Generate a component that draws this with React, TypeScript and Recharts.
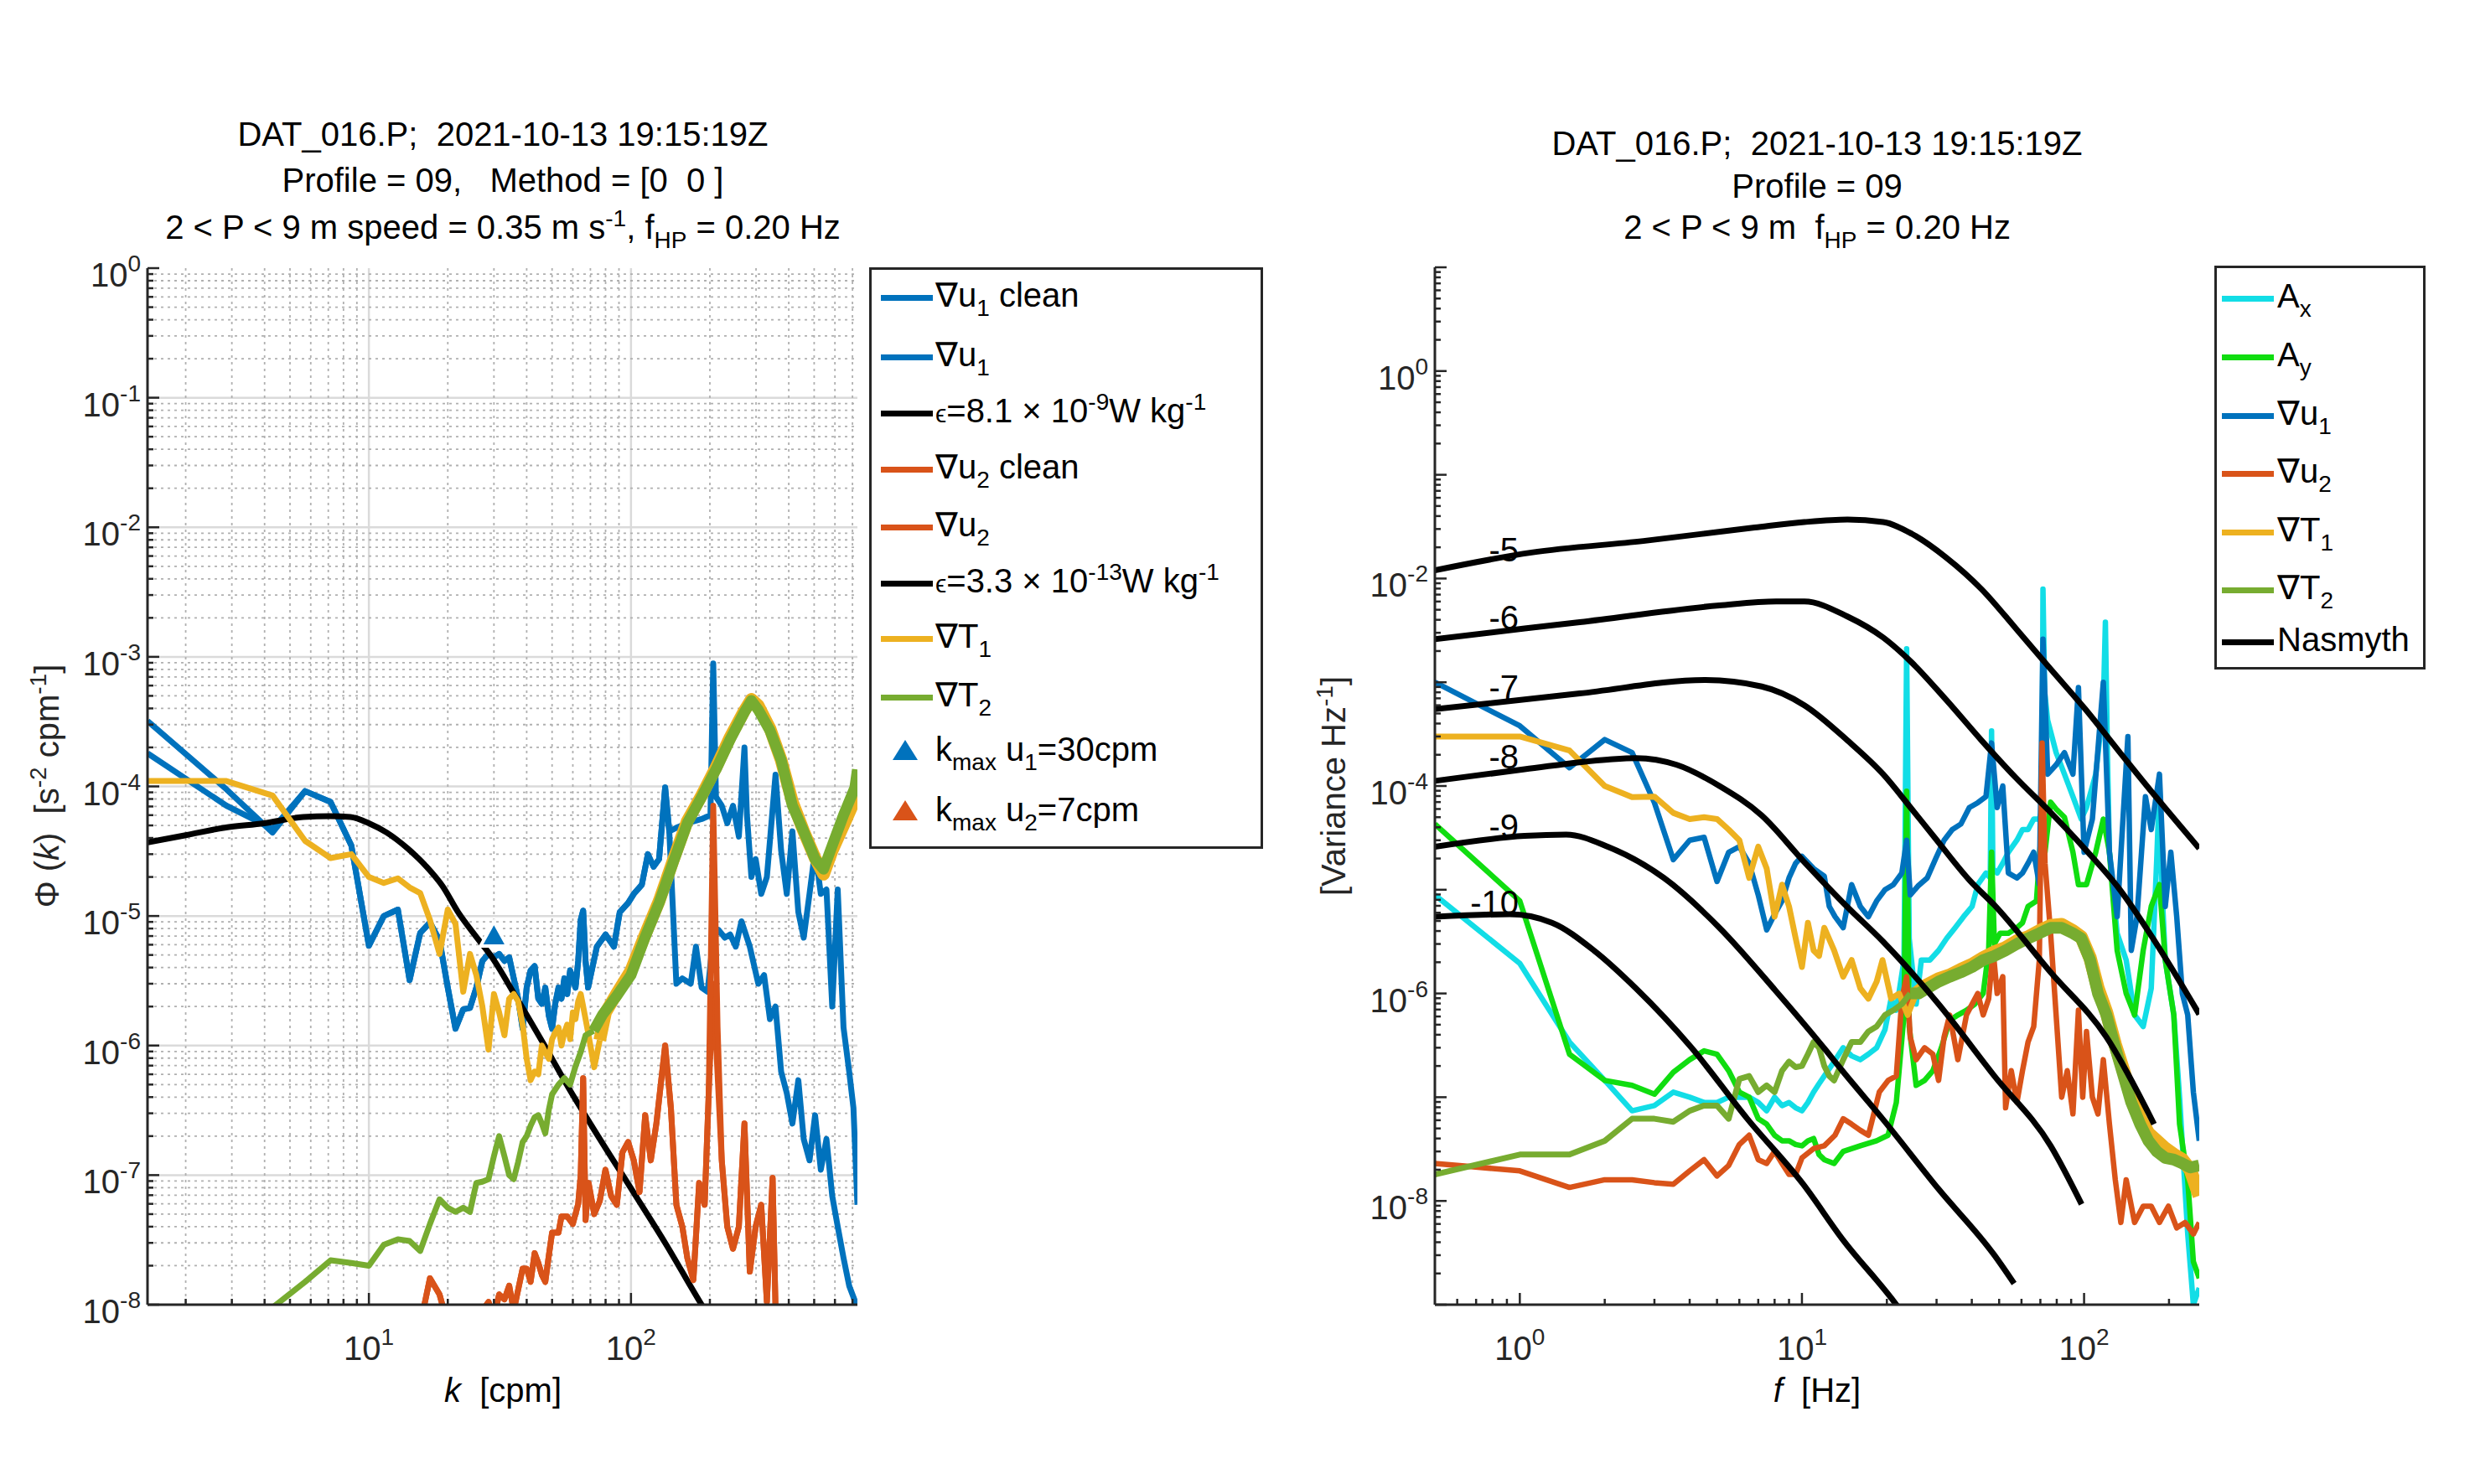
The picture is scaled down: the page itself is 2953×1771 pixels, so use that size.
import React from "react";
import { LineChart, Line, XAxis, YAxis, CartesianGrid } from "recharts";

type Pt = [number, number];

const BLUE = "#0072BD";
const ORANGE = "#D95319";
const YELLOW = "#EDB120";
const GREEN = "#77AC30";
const CYAN = "#12DDE6";
const LIME = "#10DD10";
const AXIS = "#262626";
const FONT = "'Liberation Sans', Arial, Helvetica, sans-serif";

// ---------------- left panel: k [cpm] vs Phi [s^-2 cpm^-1] ----------------
const kDomain = [1.43, 731];
const phiDomain = [1e-8, 1];

const gradU1RawLow: Pt[] = [[1.43, 3.2e-4], [2.86, 9.5e-5], [4.29, 4.4e-5]];
const gradU1CleanLow: Pt[] = [[1.43, 1.8e-4], [2.86, 7.1e-5], [4.29, 4.7e-5]];
const gradU1Mid: Pt[] = [
  [5.71, 9.2e-5], [7.14, 7.6e-5], [8.57, 3.5e-5], [10.0, 5.9e-6], [11.4, 1.0e-5], [12.9, 1.12e-5],
  [14.3, 3.2e-6], [15.7, 7.4e-6], [17.1, 8.9e-6], [18.6, 6.5e-6], [20.0, 2.8e-6], [21.4, 1.35e-6],
  [22.9, 1.9e-6], [24.3, 1.95e-6], [25.7, 2.8e-6], [27.1, 4.5e-6], [28.6, 5.1e-6], [30.0, 4.8e-6],
  [31.4, 5.1e-6], [32.9, 4.5e-6], [34.3, 4.8e-6], [35.7, 3.3e-6], [37.1, 2.3e-6], [38.6, 1.35e-6],
  [40.0, 2.8e-6], [41.4, 3.8e-6], [42.9, 4.1e-6], [44.3, 2.3e-6], [45.7, 2.1e-6], [47.1, 2.8e-6],
  [48.6, 1.7e-6], [50.0, 1.35e-6], [51.4, 2.1e-6], [52.9, 2.8e-6], [54.3, 2.3e-6], [55.7, 3.3e-6],
  [57.1, 2.5e-6], [58.6, 3.8e-6], [60.0, 3.3e-6], [61.4, 2.8e-6], [62.9, 4.5e-6], [64.3, 9.3e-6],
  [65.7, 1.1e-5], [67.1, 4.5e-6], [68.6, 2.8e-6], [74.1, 5.8e-6], [80.0, 7.2e-6], [86.1, 5.8e-6],
  [90.6, 1.07e-5], [97.5, 1.26e-5], [102.5, 1.48e-5], [110, 1.74e-5], [116, 3.0e-5], [122, 2.4e-5],
  [128, 2.75e-5], [135, 9.8e-5], [140, 4.5e-5],
];
const gradU1RawHigh: Pt[] = [
  [149, 4.8e-5], [164, 5.2e-5], [186, 5.6e-5], [201, 6.0e-5], [206, 8.9e-4], [211, 8.3e-5],
  [222, 7.1e-5], [233, 5.2e-5], [245, 7.1e-5], [258, 4.1e-5], [271, 2.0e-4], [277, 6.0e-5],
  [288, 2.0e-5], [299, 2.75e-5], [314, 1.48e-5], [330, 2.0e-5], [356, 1.23e-4], [374, 3.2e-5],
  [393, 1.48e-5], [413, 4.5e-5], [435, 1.07e-5], [456, 6.8e-6], [480, 1.48e-5], [504, 3.2e-5],
  [530, 1.48e-5], [557, 1.6e-5], [586, 2.0e-6], [615, 1.6e-5], [647, 1.38e-6], [680, 6.3e-7],
  [706, 3.3e-7], [731, 5.9e-8],
];
const gradU1CleanHigh: Pt[] = [
  [149, 3.0e-6], [157, 3.3e-6], [169, 3.0e-6], [177, 5.8e-6], [186, 2.8e-6], [196, 2.6e-6],
  [206, 6.8e-6], [216, 7.8e-6], [228, 6.8e-6], [239, 7.2e-6], [251, 5.8e-6], [264, 9.1e-6],
  [284, 5.8e-6], [306, 3.0e-6], [322, 3.5e-6], [339, 1.6e-6], [356, 2.0e-6], [374, 6.3e-7],
  [393, 4.3e-7], [413, 2.5e-7], [435, 5.4e-7], [456, 1.9e-7], [480, 1.3e-7], [504, 2.9e-7],
  [530, 1.1e-7], [557, 1.9e-7], [586, 6.9e-8], [615, 4.0e-8], [647, 2.3e-8], [680, 1.4e-8],
  [731, 9.5e-9],
];

const gradU2Low: Pt[] = [
  [15.7, 7e-9], [17.1, 1.6e-8], [18.6, 1.2e-8], [20.0, 7e-9], [21.4, 9e-9], [22.9, 6e-9],
  [24.3, 5e-9], [25.7, 7e-9], [27.1, 9e-9], [28.6, 1.05e-8], [30.0, 8e-9], [31.4, 1.2e-8],
  [32.9, 1.1e-8], [34.3, 1.4e-8], [35.7, 9e-9], [37.1, 1.3e-8], [38.6, 1.9e-8], [40.0, 1.9e-8],
  [41.4, 1.5e-8], [42.9, 2.5e-8], [44.3, 2.1e-8], [45.7, 1.7e-8], [47.1, 1.5e-8], [48.6, 2.4e-8],
  [50.0, 3.6e-8], [52.9, 3.6e-8], [54.3, 4.8e-8], [57.1, 4.8e-8], [60.0, 4.2e-8], [62.9, 6.0e-8],
  [64.3, 1.0e-7], [65.7, 5.6e-7], [67.1, 4.5e-8], [68.9, 8.7e-8], [72.4, 5.0e-8], [76.0, 6.3e-8],
  [79.9, 1.1e-7], [84.0, 6.9e-8], [88.3, 5.9e-8], [92.8, 1.5e-7], [97.5, 1.8e-7], [102.5, 1.3e-7],
  [107.8, 7.4e-8], [113.3, 2.9e-7], [119, 1.3e-7], [125, 2.5e-7], [135, 1.0e-6], [142, 3.3e-7],
  [149, 5.9e-8], [157, 4.0e-8], [164, 2.3e-8], [173, 1.55e-8], [182, 8.7e-8], [191, 5.9e-8],
  [198, 4.3e-7],
];
const gradU2RawPeak: Pt[] = [[206, 7.1e-5], [214, 1.38e-6]];
const gradU2CleanPeak: Pt[] = [[206, 3.0e-6], [214, 6.0e-7]];
const gradU2High: Pt[] = [
  [222, 1.3e-7], [233, 4.0e-8], [245, 2.7e-8], [258, 4.0e-8], [271, 2.5e-7], [284, 1.8e-8],
  [299, 4.0e-8], [314, 5.9e-8], [330, 1.05e-8], [347, 9.5e-8], [356, 9.5e-9], [374, 5e-9],
];

const epsFit: Pt[] = [
  [1.43, 3.7e-5], [2.0, 4.2e-5], [2.82, 4.8e-5], [3.98, 5.2e-5], [5.62, 5.8e-5], [7.08, 5.9e-5],
  [8.5, 5.8e-5], [10, 5.2e-5], [11.7, 4.4e-5], [14.1, 3.3e-5], [16.6, 2.4e-5], [19.1, 1.7e-5],
  [21.9, 1.07e-5], [25.7, 6.9e-6], [29.5, 4.8e-6], [36.3, 2.4e-6], [46.8, 1.0e-6], [57.5, 4.8e-7],
  [70.8, 2.4e-7], [100, 7.9e-8], [135, 3.0e-8], [186, 1.0e-8], [200, 7.9e-9],
];

// temperature-gradient spectra: resolved low part and the noisy band at high k
const gradT1LeftLow: Pt[] = [
  [1.43, 1.1e-4], [2.86, 1.1e-4], [4.29, 8.5e-5], [5.71, 3.8e-5], [7.14, 2.8e-5], [8.57, 3.0e-5],
  [10.0, 2.0e-5], [11.4, 1.8e-5], [12.9, 1.95e-5], [14.3, 1.66e-5], [15.7, 1.5e-5], [17.1, 9.3e-6],
  [18.6, 5.1e-6], [20.0, 1.12e-5], [21.4, 8.7e-6], [22.9, 2.6e-6], [24.3, 5.1e-6], [25.7, 3.5e-6],
  [27.1, 2.0e-6], [28.6, 9.3e-7], [30.0, 2.5e-6], [31.4, 1.8e-6], [32.9, 1.2e-6], [34.3, 2.3e-6],
  [35.7, 2.5e-6], [37.1, 2.2e-6], [38.6, 1.45e-6], [40.0, 7.9e-7], [41.4, 5.4e-7], [42.9, 6.3e-7],
  [44.3, 6.0e-7], [45.7, 1.0e-6], [47.1, 8.9e-7], [48.6, 7.9e-7], [50.0, 1.12e-6], [51.4, 1.26e-6],
  [52.9, 1.38e-6], [54.3, 1.0e-6], [55.7, 1.26e-6], [57.1, 1.45e-6], [58.6, 1.12e-6], [60.0, 1.8e-6],
  [61.4, 1.6e-6], [62.9, 2.2e-6], [64.3, 2.5e-6], [65.7, 2.0e-6], [67.1, 1.6e-6], [68.6, 1.26e-6],
  [72.4, 6.8e-7], [76.0, 1.1e-6],
];
const gradT1LeftHigh: Pt[] = [
  [76.0, 1.1e-6], [80, 1.8e-6], [88, 2.5e-6], [100, 3.8e-6], [113, 7.1e-6],
  [128, 1.3e-5], [145, 2.7e-5], [164, 5.4e-5], [186, 8.5e-5], [211, 1.4e-4], [239, 2.4e-4],
  [270, 3.8e-4], [288, 4.7e-4], [306, 4.2e-4], [339, 2.8e-4], [374, 1.6e-4], [413, 7.6e-5],
  [456, 4.5e-5], [504, 2.8e-5], [543, 2.1e-5], [586, 3.2e-5], [647, 5.0e-5], [715, 7.9e-5],
  [731, 8.9e-5],
];
const gradT2LeftLow: Pt[] = [
  [4.29, 9.5e-9], [5.71, 1.5e-8], [7.14, 2.2e-8], [8.57, 2.1e-8], [10.0, 2.0e-8], [11.4, 2.9e-8],
  [12.9, 3.2e-8], [14.3, 3.1e-8], [15.7, 2.6e-8], [17.1, 4.2e-8], [18.6, 6.5e-8], [20.0, 5.6e-8],
  [21.4, 5.2e-8], [22.9, 5.6e-8], [24.3, 5.2e-8], [25.7, 8.7e-8], [27.1, 8.9e-8], [28.6, 9.3e-8],
  [30.0, 1.4e-7], [31.4, 2.0e-7], [32.9, 1.4e-7], [34.3, 1.0e-7], [35.7, 9.3e-8], [37.1, 1.26e-7],
  [38.6, 1.8e-7], [40.0, 2.0e-7], [41.4, 2.4e-7], [42.9, 2.8e-7], [44.3, 2.9e-7], [45.7, 2.5e-7],
  [47.1, 2.1e-7], [48.6, 3.2e-7], [50.0, 4.2e-7], [52.9, 5.0e-7], [55.7, 5.6e-7], [58.6, 5.0e-7],
  [61.4, 6.9e-7], [64.3, 8.9e-7], [67.1, 1.2e-6], [72, 1.3e-6],
];
const gradT2LeftHigh: Pt[] = [
  [72, 1.3e-6], [78, 1.74e-6], [88, 2.4e-6],
  [100, 3.5e-6], [113, 6.8e-6], [128, 1.26e-5], [145, 2.6e-5], [164, 5.2e-5], [186, 8.3e-5],
  [211, 1.35e-4], [239, 2.3e-4], [270, 3.7e-4], [288, 4.6e-4], [306, 3.9e-4], [339, 2.7e-4],
  [374, 1.6e-4], [413, 7.1e-5], [456, 4.5e-5], [504, 2.75e-5], [543, 2.3e-5], [586, 3.5e-5],
  [647, 6.0e-5], [715, 9.8e-5], [731, 1.35e-4],
];
const kmaxU1: Pt[] = [[30, 7e-6]];

const kTicks = [2, 3, 4, 5, 6, 7, 8, 9, 10, 20, 30, 40, 50, 60, 70, 80, 90, 100, 200, 300, 400, 500, 600, 700];
const kLabels = [1, 2];
const phiLabels = [0, -1, -2, -3, -4, -5, -6, -7, -8];

// ---------------- right panel: f [Hz] vs variance Hz^-1 ----------------
const fDomain = [0.5, 256];
const varDomain = [1e-9, 10];

const axSpec: Pt[] = [
  [0.5, 8.9e-6], [1.0, 1.95e-6], [1.5, 3.4e-7], [2.0, 1.45e-7], [2.5, 7.4e-8], [3.0, 8.3e-8],
  [3.5, 1.12e-7], [4.0, 1.0e-7], [4.5, 8.9e-8], [5.0, 8.9e-8], [5.5, 1.0e-7], [6.0, 1.0e-7],
  [6.5, 1.0e-7], [7.0, 8.9e-8], [7.5, 7.4e-8], [8.0, 1.0e-7], [8.5, 8.3e-8], [9.0, 8.9e-8],
  [9.5, 7.9e-8], [10.0, 7.4e-8], [10.5, 8.9e-8], [11.0, 1.12e-7], [11.5, 1.35e-7], [12.0, 1.6e-7],
  [13.0, 2.2e-7], [14.0, 3.0e-7], [15.0, 2.5e-7], [16.1, 2.3e-7], [17.2, 2.6e-7], [18.4, 3.0e-7],
  [19.7, 4.5e-7], [20.7, 8.9e-7], [21.6, 6.9e-7], [23.0, 2.1e-6], [23.5, 2.1e-3], [24.0, 3.4e-6],
  [25.4, 7.9e-7], [26.5, 2.1e-6], [28.4, 2.1e-6], [30.5, 2.6e-6], [32.6, 3.4e-6], [34.9, 4.3e-6],
  [37.4, 5.5e-6], [40.1, 6.9e-6], [42.0, 1.12e-5], [44.9, 1.45e-5], [46.5, 1.3e-5], [47.0, 3.4e-4],
  [47.5, 1.6e-5], [49.2, 1.45e-5], [51.5, 1.8e-5], [53.9, 2.3e-5], [57.8, 3.0e-5], [60.5, 3.8e-5],
  [63.3, 3.8e-5], [66.3, 4.8e-5], [69.4, 4.8e-5], [71.0, 6.0e-5], [71.5, 7.9e-3], [72.5, 8.0e-4],
  [74.3, 4.3e-4], [79.6, 2.1e-4], [85.2, 1.3e-4], [91.3, 7.9e-5], [97.7, 4.8e-5], [102, 6.2e-5],
  [110, 1.3e-4], [117, 6.0e-4], [119, 3.8e-3], [121, 2.0e-4], [123, 2.3e-5], [131, 3.8e-6],
  [141, 2.1e-6], [151, 6.2e-7], [162, 4.8e-7], [173, 1.12e-6], [181, 2.0e-5], [185, 1.0e-4],
  [189, 1.0e-5], [194, 2.1e-6], [208, 6.2e-7], [218, 1.0e-7], [233, 4.8e-9], [244, 1.0e-9],
  [256, 1.45e-9],
];
const aySpec: Pt[] = [
  [0.5, 4.3e-5], [1.0, 7.8e-6], [1.5, 2.6e-7], [2.0, 1.45e-7], [2.5, 1.3e-7], [3.0, 1.07e-7],
  [3.5, 1.74e-7], [4.0, 2.3e-7], [4.5, 2.8e-7], [5.0, 2.6e-7], [5.5, 1.8e-7], [6.0, 1.12e-7],
  [6.5, 1.0e-7], [7.0, 6.2e-8], [7.5, 5.5e-8], [8.0, 4.3e-8], [8.5, 3.8e-8], [9.0, 3.8e-8],
  [9.5, 3.5e-8], [10.0, 3.4e-8], [10.5, 3.8e-8], [11.0, 4.0e-8], [11.5, 2.8e-8], [12.0, 2.5e-8],
  [13.0, 2.3e-8], [14.0, 3.0e-8], [16.1, 3.4e-8], [18.4, 3.8e-8], [20.2, 4.3e-8], [21.6, 8.9e-8],
  [23.0, 6.2e-7], [23.5, 8.9e-5], [24.0, 4.8e-7], [25.4, 1.3e-7], [27.2, 1.45e-7], [29.1, 1.8e-7],
  [31.2, 3.0e-7], [33.4, 5.5e-7], [35.7, 6.2e-7], [38.3, 6.9e-7], [41.0, 7.9e-7], [43.9, 1.0e-6],
  [45.9, 2.6e-6], [47.0, 2.3e-5], [48.1, 3.0e-6], [50.4, 3.8e-6], [53.9, 3.8e-6], [57.8, 4.3e-6],
  [60.5, 4.8e-6], [63.3, 6.9e-6], [67.8, 7.8e-6], [71.0, 4.8e-5], [72.7, 2.3e-5], [76.1, 7.0e-5],
  [79.6, 6.0e-5], [85.2, 5.0e-5], [91.3, 2.3e-5], [95.5, 1.12e-5], [102, 1.12e-5], [110, 2.3e-5],
  [117, 4.8e-5], [123, 2.3e-5], [131, 2.6e-6], [141, 1.0e-6], [151, 6.2e-7], [162, 2.6e-6],
  [173, 6.9e-6], [185, 1.12e-5], [194, 2.1e-6], [208, 6.2e-7], [218, 5.5e-8], [233, 1.6e-8],
  [244, 2.6e-9], [256, 1.8e-9],
];
const u1Spec: Pt[] = [
  [0.5, 1.0e-3], [1.0, 3.8e-4], [1.5, 1.5e-4], [2.0, 2.8e-4], [2.5, 2.1e-4], [3.0, 6.9e-5],
  [3.5, 1.95e-5], [4.0, 3.0e-5], [4.5, 3.2e-5], [5.0, 1.2e-5], [5.5, 2.3e-5], [6.0, 2.6e-5],
  [6.5, 1.8e-5], [7.0, 8.9e-6], [7.5, 4.1e-6], [8.0, 5.8e-6], [8.5, 7.8e-6], [9.0, 1.3e-5],
  [9.5, 1.8e-5], [10.0, 2.1e-5], [11.0, 1.6e-5], [12.0, 1.35e-5], [12.5, 6.9e-6], [13.1, 5.5e-6],
  [14.0, 4.3e-6], [15.0, 1.12e-5], [16.1, 6.9e-6], [17.2, 5.5e-6], [18.4, 7.8e-6], [19.7, 1.0e-5],
  [21.1, 1.12e-5], [22.6, 1.45e-5], [23.5, 3.0e-5], [24.2, 8.9e-6], [25.9, 1.1e-5], [27.8, 1.3e-5],
  [29.8, 2.0e-5], [31.9, 3.0e-5], [34.1, 3.8e-5], [36.6, 4.3e-5], [39.2, 6.2e-5], [42.0, 6.9e-5],
  [44.9, 7.9e-5], [47.0, 2.6e-4], [49.2, 6.2e-5], [51.5, 1.0e-4], [53.9, 1.45e-5], [57.8, 1.3e-5],
  [60.5, 1.45e-5], [63.3, 1.8e-5], [66.3, 2.3e-5], [69.4, 1.12e-5], [71.5, 2.6e-3], [74.3, 1.3e-4],
  [79.6, 1.6e-4], [85.2, 2.1e-4], [91.3, 1.3e-4], [95.5, 8.9e-4], [100, 2.3e-5], [107, 4.8e-5],
  [117, 1.0e-3], [123, 2.3e-5], [131, 5.5e-6], [143, 3.0e-4], [147, 2.6e-6], [154, 5.5e-6],
  [165, 7.9e-5], [173, 3.8e-5], [185, 1.3e-4], [194, 6.9e-6], [203, 2.3e-5], [213, 5.5e-6],
  [223, 1.0e-6], [233, 6.2e-7], [244, 1.12e-7], [256, 3.8e-8],
];
const u2Spec: Pt[] = [
  [0.5, 2.3e-8], [1.0, 1.95e-8], [1.5, 1.35e-8], [2.0, 1.6e-8], [2.5, 1.6e-8], [3.0, 1.5e-8],
  [3.5, 1.45e-8], [4.0, 1.95e-8], [4.5, 2.5e-8], [5.0, 1.74e-8], [5.5, 2.2e-8], [6.0, 3.5e-8],
  [6.5, 4.3e-8], [7.0, 2.5e-8], [7.5, 2.3e-8], [8.0, 3.0e-8], [8.5, 2.3e-8], [9.0, 1.8e-8],
  [9.5, 1.8e-8], [10.0, 2.6e-8], [11.0, 3.2e-8], [12.0, 3.4e-8], [13.1, 4.3e-8], [14.0, 6.2e-8],
  [15.0, 5.5e-8], [16.1, 4.8e-8], [17.2, 4.3e-8], [18.8, 1.12e-7], [20.2, 1.45e-7], [21.6, 1.6e-7],
  [22.6, 8.9e-7], [23.5, 1.45e-6], [24.2, 3.8e-7], [25.4, 2.3e-7], [27.2, 3.0e-7], [29.1, 2.6e-7],
  [30.5, 1.45e-7], [31.9, 3.8e-7], [33.4, 6.2e-7], [35.7, 2.3e-7], [38.3, 6.2e-7], [40.1, 7.9e-7],
  [42.0, 1.0e-6], [43.9, 6.2e-7], [45.9, 8.9e-7], [47.6, 2.6e-6], [49.2, 1.0e-6], [51.5, 1.45e-6],
  [52.7, 7.9e-8], [55.2, 1.8e-7], [57.8, 8.9e-8], [60.5, 1.8e-7], [63.3, 3.4e-7], [66.3, 4.8e-7],
  [69.4, 2.1e-6], [71.0, 2.6e-4], [72.7, 1.8e-5], [76.1, 3.8e-6], [79.6, 6.2e-7], [83.3, 1.0e-7],
  [87.2, 1.8e-7], [91.3, 6.9e-8], [95.5, 6.9e-7], [98.9, 1.0e-7], [102, 4.3e-7], [107, 1.0e-7],
  [112, 6.9e-8], [117, 2.3e-7], [123, 5.5e-8], [129, 1.6e-8], [135, 6.2e-9], [141, 1.6e-8],
  [151, 6.2e-9], [162, 8.9e-9], [173, 8.9e-9], [185, 6.2e-9], [199, 8.9e-9], [213, 5.5e-9],
  [228, 6.2e-9], [244, 4.8e-9], [256, 6.2e-9],
];
const t1SpecLow: Pt[] = [
  [0.5, 3.0e-4], [1.0, 3.0e-4], [1.5, 2.2e-4], [2.0, 1.0e-4], [2.5, 7.8e-5], [3.0, 7.9e-5],
  [3.5, 5.5e-5], [4.0, 4.8e-5], [4.5, 5.0e-5], [5.0, 4.8e-5], [5.5, 3.8e-5], [6.0, 3.0e-5],
  [6.5, 1.3e-5], [7.0, 2.6e-5], [7.5, 1.6e-5], [8.0, 5.5e-6], [8.5, 1.12e-5], [9.0, 6.9e-6],
  [9.5, 3.4e-6], [10.0, 1.8e-6], [10.5, 4.8e-6], [11.0, 2.6e-6], [11.5, 2.3e-6], [12.0, 4.3e-6],
  [13.0, 2.6e-6], [14.0, 1.45e-6], [15.0, 2.1e-6], [16.1, 1.12e-6], [17.2, 8.9e-7], [18.4, 1.3e-6],
  [19.3, 2.1e-6], [20.7, 8.9e-7], [22.1, 1.0e-6], [23.7, 6.2e-7], [25.4, 1.0e-6],
];
const t1SpecHigh: Pt[] = [
  [25.4, 1.0e-6], [27.2, 1.17e-6],
  [30.5, 1.38e-6], [33.4, 1.5e-6], [36.6, 1.7e-6], [40.1, 1.9e-6], [43.9, 2.2e-6], [48.1, 2.5e-6],
  [52.7, 2.75e-6], [57.8, 3.2e-6], [63.3, 3.5e-6], [69.4, 4.0e-6], [76.1, 4.5e-6], [83.3, 4.6e-6],
  [91.3, 4.0e-6], [97.7, 3.5e-6], [105, 2.2e-6], [112, 1.12e-6], [120, 6.6e-7], [129, 3.2e-7],
  [138, 1.8e-7], [147, 1.0e-7], [158, 6.3e-8], [169, 4.5e-8], [181, 3.8e-8], [194, 3.2e-8],
  [208, 2.8e-8], [223, 2.5e-8], [238, 2.0e-8], [256, 1.12e-8],
];
const t2SpecLow: Pt[] = [
  [0.5, 1.8e-8], [1.0, 2.8e-8], [1.5, 2.8e-8], [2.0, 3.8e-8], [2.5, 6.2e-8], [3.0, 6.2e-8],
  [3.5, 5.8e-8], [4.0, 7.4e-8], [4.5, 8.3e-8], [5.0, 8.3e-8], [5.5, 6.2e-8], [6.0, 1.5e-7],
  [6.5, 1.6e-7], [7.0, 1.12e-7], [7.5, 1.3e-7], [8.0, 1.12e-7], [8.5, 1.8e-7], [9.0, 2.2e-7],
  [9.5, 1.95e-7], [10.0, 2.0e-7], [10.5, 2.6e-7], [11.0, 3.4e-7], [11.5, 3.0e-7], [12.0, 2.0e-7],
  [12.5, 1.6e-7], [13.0, 1.45e-7], [14.0, 2.3e-7], [15.0, 3.4e-7], [16.1, 3.4e-7], [17.2, 4.3e-7],
  [18.4, 4.8e-7], [19.7, 6.2e-7], [21.1, 6.9e-7], [22.6, 7.9e-7], [24.2, 1.0e-6],
];
const t2SpecHigh: Pt[] = [
  [24.2, 1.0e-6], [25.9, 1.0e-6],
  [27.8, 1.12e-6], [30.5, 1.3e-6], [33.4, 1.45e-6], [36.6, 1.6e-6], [40.1, 1.8e-6], [43.9, 2.1e-6],
  [48.1, 2.3e-6], [52.7, 2.6e-6], [57.8, 3.0e-6], [63.3, 3.4e-6], [69.4, 3.8e-6], [76.1, 4.3e-6],
  [83.3, 4.3e-6], [91.3, 3.8e-6], [97.7, 3.4e-6], [105, 2.1e-6], [112, 1.0e-6], [120, 6.2e-7],
  [129, 3.0e-7], [138, 1.6e-7], [147, 8.9e-8], [158, 5.5e-8], [169, 3.8e-8], [181, 3.0e-8],
  [194, 2.6e-8], [208, 2.5e-8], [223, 2.3e-8], [238, 2.1e-8], [256, 2.2e-8],
];

// Nasmyth spectra for log10(epsilon) = -5 ... -10
const nasmyth5: Pt[] = [
  [0.5, 1.2e-2], [1.1, 1.78e-2], [2.74, 2.3e-2], [6.8, 3.1e-2], [10.2, 3.5e-2], [14.5, 3.7e-2],
  [19.4, 3.5e-2], [24.5, 2.7e-2], [32.4, 1.6e-2], [43.3, 7.9e-3], [57.3, 3.3e-3], [75.9, 1.35e-3],
  [101, 5.5e-4], [134, 2.1e-4], [178, 8.1e-5], [256, 2.5e-5],
];
const nasmyth6: Pt[] = [
  [0.5, 2.6e-3], [1.04, 3.3e-3], [1.63, 3.8e-3], [5.1, 5.5e-3], [8.1, 6.0e-3], [10.2, 6.0e-3],
  [14.5, 4.3e-3], [19.4, 2.7e-3], [24.5, 1.55e-3], [32.4, 6.8e-4], [43.3, 2.75e-4], [57.3, 1.2e-4],
  [75.9, 5.6e-5], [101, 2.45e-5], [134, 1.0e-5], [178, 3.2e-6], [256, 6.3e-7],
];
const nasmyth7: Pt[] = [
  [0.5, 5.5e-4], [1.63, 7.8e-4], [4.55, 1.05e-3], [7.2, 9.1e-4], [10.2, 6.0e-4], [14.5, 2.75e-4],
  [19.4, 1.3e-4], [24.5, 6.0e-5], [29.5, 3.2e-5], [39.3, 1.23e-5], [48.1, 7.1e-6], [76.1, 1.6e-6],
  [120, 3.8e-7], [177, 5.5e-8],
];
const nasmyth8: Pt[] = [
  [0.5, 1.12e-4], [1.04, 1.45e-4], [2.05, 1.8e-4], [2.58, 1.86e-4], [3.6, 1.6e-4], [5.1, 1.0e-4],
  [7.2, 5.2e-5], [10.1, 1.9e-5], [14.5, 6.8e-6], [19.3, 3.2e-6], [30.5, 7.9e-7], [48.1, 1.6e-7],
  [76.1, 3.4e-8], [98, 9.3e-9],
];
const nasmyth9: Pt[] = [
  [0.5, 2.6e-5], [1.04, 3.3e-5], [1.46, 3.4e-5], [2.05, 2.6e-5], [3.24, 1.3e-5], [5.1, 4.3e-6],
  [8.05, 1.07e-6], [12.2, 2.8e-7], [13.9, 1.8e-7], [19.3, 6.2e-8], [30.5, 1.3e-8], [48.1, 3.0e-9],
  [56.5, 1.6e-9],
];
const nasmyth10: Pt[] = [
  [0.5, 5.5e-6], [0.92, 5.8e-6], [1.3, 4.8e-6], [1.83, 2.6e-6], [2.58, 1.12e-6], [4.06, 3.0e-7],
  [6.4, 6.2e-8], [10.1, 1.45e-8], [13.9, 4.3e-9], [21.6, 1.0e-9], [23, 7.9e-10],
];
const nasmythNames = ["-5", "-6", "-7", "-8", "-9", "-10"];

const fTicks = [0.6, 0.7, 0.8, 0.9, 1, 2, 3, 4, 5, 6, 7, 8, 9, 10, 20, 30, 40, 50, 60, 70, 80, 90, 100, 200];
const fLabels = [0, 1, 2];
const varLabels = [0, -2, -4, -6, -8];

// ---------------- helpers ----------------
const rows = (pts: Pt[]) => pts.map(([x, y]) => ({ x, y }));

const decadeTicks = (lo: number, hi: number) => {
  const out: number[] = [];
  for (let e = lo; e <= hi; e++) {
    for (let m = 1; m <= 9; m++) {
      if (e === hi && m > 1) break;
      out.push(Number((m * Math.pow(10, e)).toPrecision(6)));
    }
  }
  return out;
};
const phiTicks = decadeTicks(-8, 0);
const varTicks = decadeTicks(-9, 1);

const decadeOf = (v: number) => {
  const e = Math.round(Math.log10(v));
  return Math.abs(v / Math.pow(10, e) - 1) < 1e-6 ? e : null;
};

const toPx = (axis: any, vals: number[]) => {
  if (!axis || !axis.scale) return [];
  const s = axis.scale;
  return vals.map((v) => (typeof s === "function" ? s(v) : s.map(v)));
};

const kGridMajor = [10, 100];
const kGridMinor = kTicks.filter((v) => decadeOf(v) === null);
const phiGridMajor = phiTicks.filter((v) => decadeOf(v) !== null && v > 1e-8 && v < 1);
const phiGridMinor = phiTicks.filter((v) => decadeOf(v) === null);

const LogTick = (props: any) => {
  const { x, y, payload, side, labels } = props;
  const e = decadeOf(payload.value);
  const len = e !== null ? 14 : 7;
  let tickLine = null;
  if (side === "bottom") tickLine = <line x1={x} y1={y} x2={x} y2={y - len} />;
  if (side === "top") tickLine = <line x1={x} y1={y} x2={x} y2={y + len} />;
  if (side === "left") tickLine = <line x1={x} y1={y} x2={x + len} y2={y} />;
  if (side === "right") tickLine = <line x1={x} y1={y} x2={x - len} y2={y} />;
  const show = e !== null && labels && labels.includes(e);
  return (
    <g>
      <g stroke={AXIS} strokeWidth={2.5}>{tickLine}</g>
      {show && side === "bottom" && (
        <text x={x} y={y + 66} textAnchor="middle" fontSize={40} fontFamily={FONT} fill={AXIS}>
          10<tspan dy={-18} fontSize={28}>{e}</tspan>
        </text>
      )}
      {show && side === "left" && (
        <text x={x - 8} y={y + 22} textAnchor="end" fontSize={40} fontFamily={FONT} fill={AXIS}>
          10<tspan dy={-18} fontSize={28}>{e}</tspan>
        </text>
      )}
    </g>
  );
};

const KmaxMarker = (props: any) => {
  const { cx, cy } = props;
  if (cx == null || cy == null) return <g />;
  return (
    <path d={`M${cx},${cy - 17} L${cx + 16},${cy + 12} L${cx - 16},${cy + 12} Z`}
      fill={BLUE} stroke="#fff" strokeWidth={4} />
  );
};

const axisLine = { stroke: AXIS, strokeWidth: 3 };

// ---------------- panels ----------------
function WavenumberPanel() {
  const u1Raw = [...gradU1RawLow, ...gradU1Mid, ...gradU1RawHigh];
  const u1Clean = [...gradU1CleanLow, ...gradU1Mid, ...gradU1CleanHigh];
  const u2Raw = [...gradU2Low, ...gradU2RawPeak, ...gradU2High];
  const u2Clean = [...gradU2Low, ...gradU2CleanPeak, ...gradU2High];
  const line = { xAxisId: "b", yAxisId: "l", dataKey: "y", dot: false, isAnimationActive: false, type: "linear" as const, strokeLinejoin: "round" as const };
  return (
    <div style={{ position: "absolute", left: 0, top: 0 }}>
      <LineChart width={1040} height={1771} margin={{ top: 320, right: 17, bottom: 114, left: 26 }}>
        <CartesianGrid xAxisId="b" yAxisId="l" stroke="#dadada" strokeWidth={2.5}
          verticalCoordinatesGenerator={(p: any) => toPx(p.xAxis, kGridMajor)}
          horizontalCoordinatesGenerator={(p: any) => toPx(p.yAxis, phiGridMajor)} />
        <CartesianGrid xAxisId="b" yAxisId="l" stroke="#b0b0b0" strokeWidth={1.8} strokeDasharray="3 5"
          verticalCoordinatesGenerator={(p: any) => toPx(p.xAxis, kGridMinor)}
          horizontalCoordinatesGenerator={(p: any) => toPx(p.yAxis, phiGridMinor)} />
        <XAxis xAxisId="b" dataKey="x" type="number" scale="log" domain={kDomain} allowDataOverflow
          ticks={kTicks} interval={0} tickSize={0} tickMargin={0} tickLine={false} height={100}
          axisLine={axisLine} tick={<LogTick side="bottom" labels={kLabels} />} />
        <XAxis xAxisId="t" orientation="top" dataKey="x" type="number" scale="log" domain={kDomain} allowDataOverflow
          ticks={kTicks} interval={0} tickSize={0} tickMargin={0} tickLine={false} height={0}
          axisLine={axisLine} tick={<LogTick side="top" />} />
        <YAxis yAxisId="l" type="number" scale="log" domain={phiDomain} allowDataOverflow
          ticks={phiTicks} interval={0} tickSize={0} tickMargin={0} tickLine={false} width={150}
          axisLine={axisLine} tick={<LogTick side="left" labels={phiLabels} />} />
        <YAxis yAxisId="r" orientation="right" type="number" scale="log" domain={phiDomain} allowDataOverflow
          ticks={phiTicks} interval={0} tickSize={0} tickMargin={0} tickLine={false} width={0}
          axisLine={axisLine} tick={<LogTick side="right" />} />
        <Line {...line} data={rows(u1Clean)} stroke={BLUE} strokeWidth={7} />
        <Line {...line} data={rows(u1Raw)} stroke={BLUE} strokeWidth={7} />
        <Line {...line} data={rows(epsFit)} type="monotone" stroke="#000" strokeWidth={7} />
        <Line {...line} data={rows(u2Clean)} stroke={ORANGE} strokeWidth={7} />
        <Line {...line} data={rows(u2Raw)} stroke={ORANGE} strokeWidth={7} />
        <Line {...line} data={rows(gradT1LeftLow)} stroke={YELLOW} strokeWidth={7} />
        <Line {...line} data={rows(gradT1LeftHigh)} stroke={YELLOW} strokeWidth={15} />
        <Line {...line} data={rows(gradT2LeftLow)} stroke={GREEN} strokeWidth={7} />
        <Line {...line} data={rows(gradT2LeftHigh)} stroke={GREEN} strokeWidth={13} />
        <Line {...line} data={rows(kmaxU1)} stroke="none" dot={<KmaxMarker />} />
      </LineChart>
    </div>
  );
}

function FrequencyPanel() {
  const line = { xAxisId: "b", yAxisId: "l", dataKey: "y", dot: false, isAnimationActive: false, type: "linear" as const, strokeLinejoin: "round" as const };
  const nasmyth = [nasmyth5, nasmyth6, nasmyth7, nasmyth8, nasmyth9, nasmyth10];
  return (
    <div style={{ position: "absolute", left: 1560, top: 0 }}>
      <LineChart width={1074} height={1771} margin={{ top: 319, right: 10, bottom: 114, left: 2 }}>
        <XAxis xAxisId="b" dataKey="x" type="number" scale="log" domain={fDomain} allowDataOverflow
          ticks={fTicks} interval={0} tickSize={0} tickMargin={0} tickLine={false} height={100}
          axisLine={axisLine} tick={<LogTick side="bottom" labels={fLabels} />} />
        <XAxis xAxisId="t" orientation="top" dataKey="x" type="number" scale="log" domain={fDomain} allowDataOverflow
          ticks={fTicks} interval={0} tickSize={0} tickMargin={0} tickLine={false} height={0}
          axisLine={axisLine} tick={<LogTick side="top" />} />
        <YAxis yAxisId="l" type="number" scale="log" domain={varDomain} allowDataOverflow
          ticks={varTicks} interval={0} tickSize={0} tickMargin={0} tickLine={false} width={150}
          axisLine={axisLine} tick={<LogTick side="left" labels={varLabels} />} />
        <YAxis yAxisId="r" orientation="right" type="number" scale="log" domain={varDomain} allowDataOverflow
          ticks={varTicks} interval={0} tickSize={0} tickMargin={0} tickLine={false} width={0}
          axisLine={axisLine} tick={<LogTick side="right" />} />
        <Line {...line} data={rows(axSpec)} stroke={CYAN} strokeWidth={6.5} />
        <Line {...line} data={rows(aySpec)} stroke={LIME} strokeWidth={6.5} />
        <Line {...line} data={rows(u1Spec)} stroke={BLUE} strokeWidth={6.5} />
        <Line {...line} data={rows(u2Spec)} stroke={ORANGE} strokeWidth={6.5} />
        <Line {...line} data={rows(t1SpecLow)} stroke={YELLOW} strokeWidth={7} />
        <Line {...line} data={rows(t1SpecHigh)} stroke={YELLOW} strokeWidth={16} />
        <Line {...line} data={rows(t2SpecLow)} stroke={GREEN} strokeWidth={7} />
        <Line {...line} data={rows(t2SpecHigh)} stroke={GREEN} strokeWidth={14} />
        {nasmyth.map((d, i) => (
          <Line key={nasmythNames[i]} {...line} data={rows(d)} type="monotone" stroke="#000" strokeWidth={7} />
        ))}
      </LineChart>
    </div>
  );
}

// ---------------- text overlays ----------------
const Sub = ({ children }: any) => (
  <span style={{ fontSize: "0.7em", position: "relative", top: "0.4em" }}>{children}</span>
);
const Sup = ({ children }: any) => (
  <span style={{ fontSize: "0.7em", position: "relative", top: "-0.55em" }}>{children}</span>
);

const TextLine = ({ cx, cy, size = 40, children }: any) => (
  <div style={{ position: "absolute", left: cx - 900, width: 1800, top: cy - 30, height: 60, lineHeight: "60px",
    textAlign: "center", fontSize: size, fontFamily: FONT, color: "#000", whiteSpace: "pre" }}>
    {children}
  </div>
);

const VText = ({ cx, cy, children }: any) => (
  <div style={{ position: "absolute", left: cx, top: cy, transform: "translate(-50%, -50%) rotate(-90deg)",
    fontSize: 40, fontFamily: FONT, color: AXIS, whiteSpace: "pre" }}>
    {children}
  </div>
);

const Tri = ({ color }: any) => (
  <svg width={40} height={30} style={{ position: "absolute", left: 20, top: 12 }}>
    <path d="M20,3 L35,27 L5,27 Z" fill={color} />
  </svg>
);

const LegendItem = ({ y, top, color, marker, children, lineLeft, lineW, textLeft }: any) => (
  <div style={{ position: "absolute", left: 0, top: y - top - 30, height: 60, width: "100%" }}>
    {marker ? (
      <Tri color={color} />
    ) : (
      <div style={{ position: "absolute", left: lineLeft, width: lineW, top: 26, height: 7, background: color }} />
    )}
    <div style={{ position: "absolute", left: textLeft, top: 0, lineHeight: "52px", fontSize: 40,
      fontFamily: FONT, whiteSpace: "pre", color: "#000" }}>
      {children}
    </div>
  </div>
);

const LeftLegend = () => {
  const top = 319;
  const items: [number, string, boolean, React.ReactNode][] = [
    [356, BLUE, false, <>∇u<Sub>1</Sub> clean</>],
    [427, BLUE, false, <>∇u<Sub>1</Sub></>],
    [494, "#000", false, <><span style={{ fontSize: "0.75em" }}>ϵ</span>=8.1 × 10<Sup>-9</Sup>W kg<Sup>-1</Sup></>],
    [561, ORANGE, false, <>∇u<Sub>2</Sub> clean</>],
    [630, ORANGE, false, <>∇u<Sub>2</Sub></>],
    [697, "#000", false, <><span style={{ fontSize: "0.75em" }}>ϵ</span>=3.3 × 10<Sup>-13</Sup>W kg<Sup>-1</Sup></>],
    [763, YELLOW, false, <>∇T<Sub>1</Sub></>],
    [833, GREEN, false, <>∇T<Sub>2</Sub></>],
    [898, BLUE, true, <>k<Sub>max</Sub> u<Sub>1</Sub>=30cpm</>],
    [970, ORANGE, true, <>k<Sub>max</Sub> u<Sub>2</Sub>=7cpm</>],
  ];
  return (
    <div style={{ position: "absolute", left: 1037, top, width: 470, height: 694, border: `3px solid ${AXIS}`,
      boxSizing: "border-box", background: "#fff" }}>
      {items.map(([y, c, m, t], i) => (
        <LegendItem key={i} y={y} top={top + 3} color={c} marker={m} lineLeft={11} lineW={62} textLeft={76}>{t}</LegendItem>
      ))}
    </div>
  );
};

const RightLegend = () => {
  const top = 317;
  const items: [number, string, React.ReactNode][] = [
    [357, CYAN, <>A<Sub>x</Sub></>],
    [427, LIME, <>A<Sub>y</Sub></>],
    [497, BLUE, <>∇u<Sub>1</Sub></>],
    [566, ORANGE, <>∇u<Sub>2</Sub></>],
    [636, YELLOW, <>∇T<Sub>1</Sub></>],
    [705, GREEN, <>∇T<Sub>2</Sub></>],
    [767, "#000", <>Nasmyth</>],
  ];
  return (
    <div style={{ position: "absolute", left: 2642, top, width: 252, height: 482, border: `3px solid ${AXIS}`,
      boxSizing: "border-box", background: "#fff" }}>
      {items.map(([y, c, t], i) => (
        <LegendItem key={i} y={y} top={top + 3} color={c} lineLeft={6} lineW={62} textLeft={72}>{t}</LegendItem>
      ))}
    </div>
  );
};

const nasmythLabelY = [656, 737, 820, 903, 986, 1077];

export default function App() {
  return (
    <div style={{ position: "absolute", left: 0, top: 0, width: 2953, height: 1771, background: "#fff", overflow: "hidden" }}>
      <WavenumberPanel />
      <FrequencyPanel />

      <TextLine cx={600} cy={160}>DAT_016.P;  2021-10-13 19:15:19Z</TextLine>
      <TextLine cx={600} cy={215}>Profile = 09,   Method = [0  0 ]</TextLine>
      <TextLine cx={600} cy={271}>2 &lt; P &lt; 9 m speed = 0.35 m s<Sup>-1</Sup>, f<Sub>HP</Sub> = 0.20 Hz</TextLine>
      <TextLine cx={2168} cy={171}>DAT_016.P;  2021-10-13 19:15:19Z</TextLine>
      <TextLine cx={2168} cy={222}>Profile = 09</TextLine>
      <TextLine cx={2168} cy={271}>2 &lt; P &lt; 9 m  f<Sub>HP</Sub> = 0.20 Hz</TextLine>

      <TextLine cx={600} cy={1659}><i>k</i>  [cpm]</TextLine>
      <TextLine cx={2168} cy={1659}><i>f</i>  [Hz]</TextLine>
      <VText cx={56} cy={938}>Φ (<i>k</i>)  [s<Sup>-2</Sup> cpm<Sup>-1</Sup>]</VText>
      <VText cx={1591} cy={938}>[Variance Hz<Sup>-1</Sup>]</VText>

      {nasmythNames.map((n, i) => (
        <div key={n} style={{ position: "absolute", left: 1712, width: 100, top: nasmythLabelY[i] - 30, lineHeight: "60px",
          textAlign: "right", fontSize: 40, fontFamily: FONT, color: "#000" }}>{n}</div>
      ))}

      <LeftLegend />
      <RightLegend />
    </div>
  );
}
